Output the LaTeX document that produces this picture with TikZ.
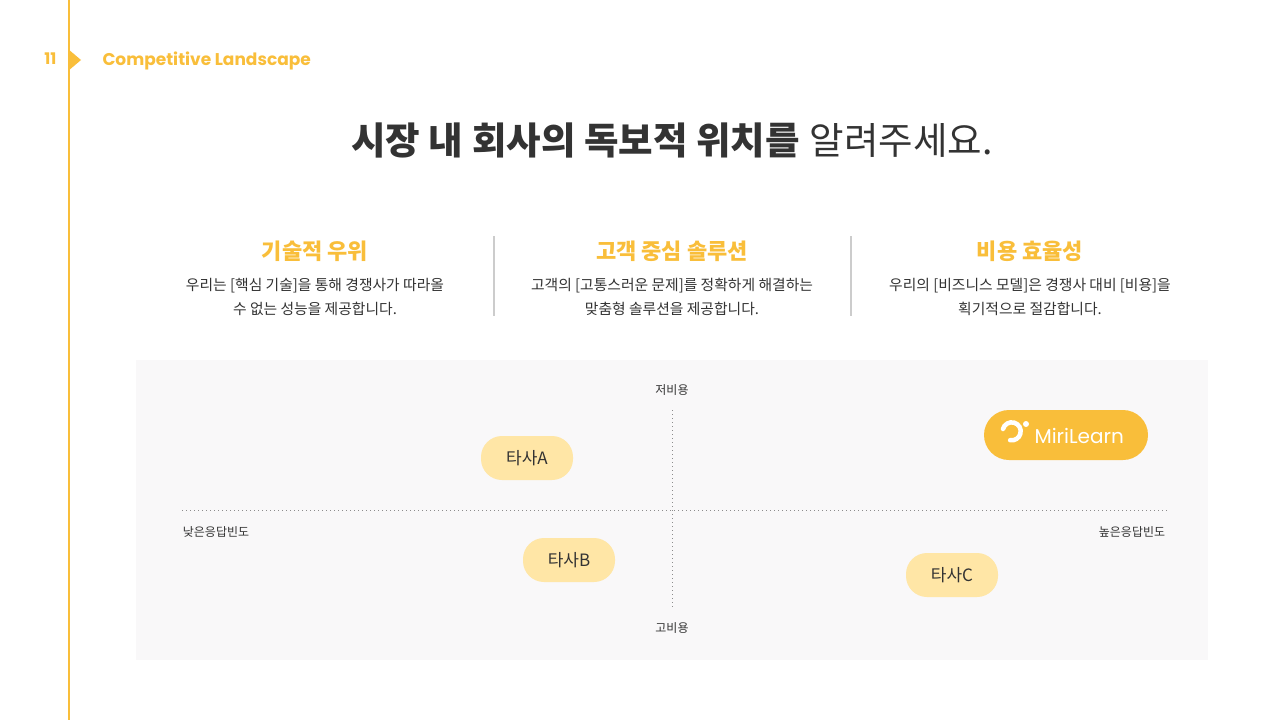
\documentclass[tikz,border=0pt]{standalone}
\usepackage{fontspec}
\setmainfont{Poppins}
\newfontfamily\kr{Noto Sans CJK KR}
\definecolor{acc}{HTML}{F9BE3A}
\definecolor{txt}{HTML}{333333}
\definecolor{pillc}{HTML}{FFE6A6}
\definecolor{panel}{HTML}{F9F8F9}
\tikzset{
 pill/.style={fill=pillc,rounded corners=21pt,minimum width=92pt,minimum height=44pt,inner sep=0pt,font=\kr\fontsize{17}{20}\selectfont,text=txt},
 axlab/.style={font=\kr\fontsize{12}{14}\selectfont,text=txt},
 head/.style={font=\kr\bfseries\fontsize{22}{26}\selectfont,text=acc},
 body/.style={font=\kr\fontsize{14.8}{24}\selectfont,text=txt,align=center},
 divl/.style={draw=black!20,line width=1.5pt},
 dotl/.style={draw=black!45,line width=1pt,dash pattern=on 1pt off 3pt}
}
\begin{document}
\begin{tikzpicture}[x=1pt,y=-1pt]
\useasboundingbox[fill=white] (0,0) rectangle (1280,720);
\draw[acc,line width=2pt] (69,0) -- (69,720);
\fill[acc] (68,49) -- (81,60) -- (68,71) -- cycle;
\node[text=acc,font=\bfseries\fontsize{16}{18}\selectfont,anchor=east] (num) at (60,59) {11};
\node[text=acc,font=\bfseries\fontsize{17}{20}\selectfont,anchor=west] (sec) at (99,61) {Competitive Landscape};
\node[text=txt,font=\fontsize{37.5}{44}\selectfont] (title) at (672,140) {{\kr\bfseries 시장 내 회사의 독보적 위치를} {\kr 알려주세요.}};
\node[head] (h1) at (315,251) {기술적 우위};
\node[head] (h2) at (672,251) {고객 중심 솔루션};
\node[head] (h3) at (1030,251) {비용 효율성};
\node[body] (b1) at (315,297) {우리는 [핵심 기술]을 통해 경쟁사가 따라올\\수 없는 성능을 제공합니다.};
\node[body] (b2) at (672,297) {고객의 [고통스러운 문제]를 정확하게 해결하는\\맞춤형 솔루션을 제공합니다.};
\node[body] (b3) at (1030,297) {우리의 [비즈니스 모델]은 경쟁사 대비 [비용]을\\획기적으로 절감합니다.};
\draw[divl] (494,236) -- (494,316);
\draw[divl] (851,236) -- (851,316);
\fill[panel] (136,360) rectangle (1208,660);
\coordinate (hl) at (182,510); \coordinate (hr) at (1168,510);
\coordinate (vt) at (672,410); \coordinate (vb) at (672,610);
\draw[dotl] (hl) -- (hr);
\draw[dotl] (vt) -- (vb);
\node[axlab] (top) at (672,390) {저비용};
\node[axlab] (bot) at (672,628) {고비용};
\node[axlab] (lft) at (216,532) {낮은응답빈도};
\node[axlab] (rgt) at (1132,532) {높은응답빈도};
\node[pill] (a) at (527,458) {타사A};
\node[pill] (b) at (569,560) {타사B};
\node[pill] (c) at (952,575) {타사C};
\node[fill=acc,rounded corners=25pt,minimum width=164pt,minimum height=50pt] (m) at (1066,435) {};
\node[text=white,font=\fontsize{20}{24}\selectfont,anchor=west] (ml) at (1031,436) {MiriLearn};
\draw[white,line width=4.5pt,line cap=round] (1003,429) arc[start angle=165,end angle=-100,radius=9pt];
\fill[white] (1026,424) circle (3pt);
\end{tikzpicture}
\end{document}
